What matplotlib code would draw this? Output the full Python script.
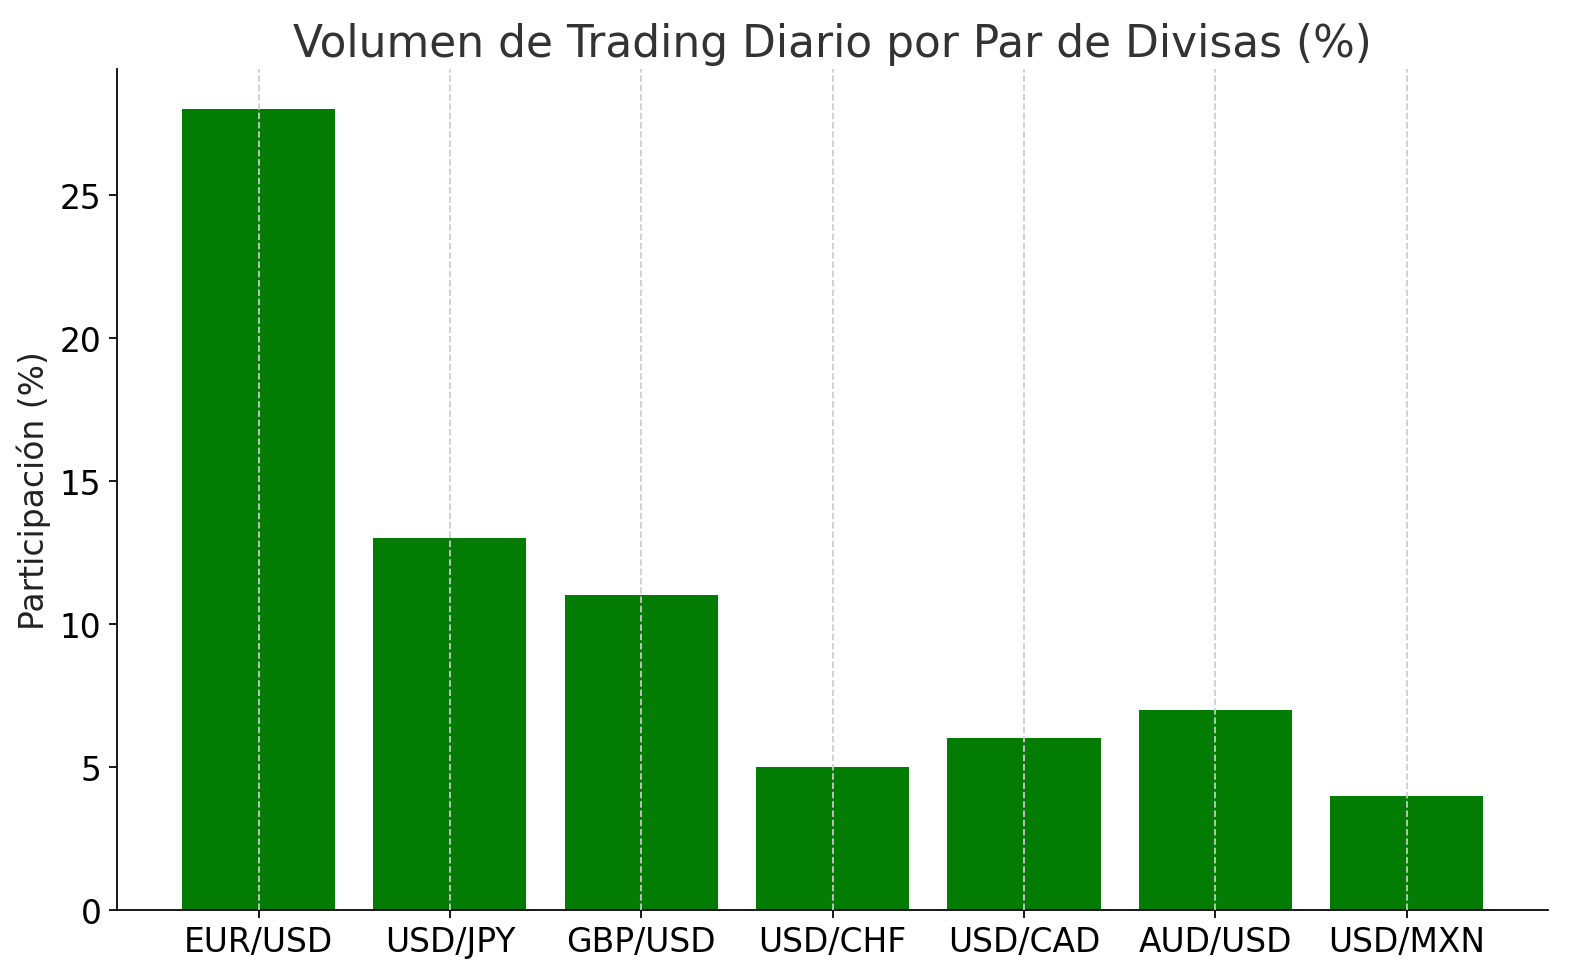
import matplotlib
matplotlib.use("Agg")
import matplotlib.pyplot as plt

pairs = ["EUR/USD", "USD/JPY", "GBP/USD", "USD/CHF", "USD/CAD", "AUD/USD", "USD/MXN"]
shares = [28, 13, 11, 5, 6, 7, 4]

plt.rcParams['font.family'] = ['DejaVu Sans']
fig, ax = plt.subplots(figsize=(10, 6.2), dpi=158)
ax.bar(pairs, shares, color="#037c03", width=0.8)
ax.set_title("Volumen de Trading Diario por Par de Divisas (%)", fontsize=20, color="#333333")
ax.set_ylabel("Participación (%)", fontsize=15, color="#222222")
ax.tick_params(axis='both', labelsize=15)
ax.spines['top'].set_visible(False)
ax.spines['right'].set_visible(False)
ax.grid(axis='x', linestyle='--', color='#cccccc', linewidth=0.8, zorder=3)
ax.set_axisbelow(False)
fig.subplots_adjust(left=0.074, right=0.98, bottom=0.0704, top=0.9286)
fig.savefig("out.png", dpi=158)
